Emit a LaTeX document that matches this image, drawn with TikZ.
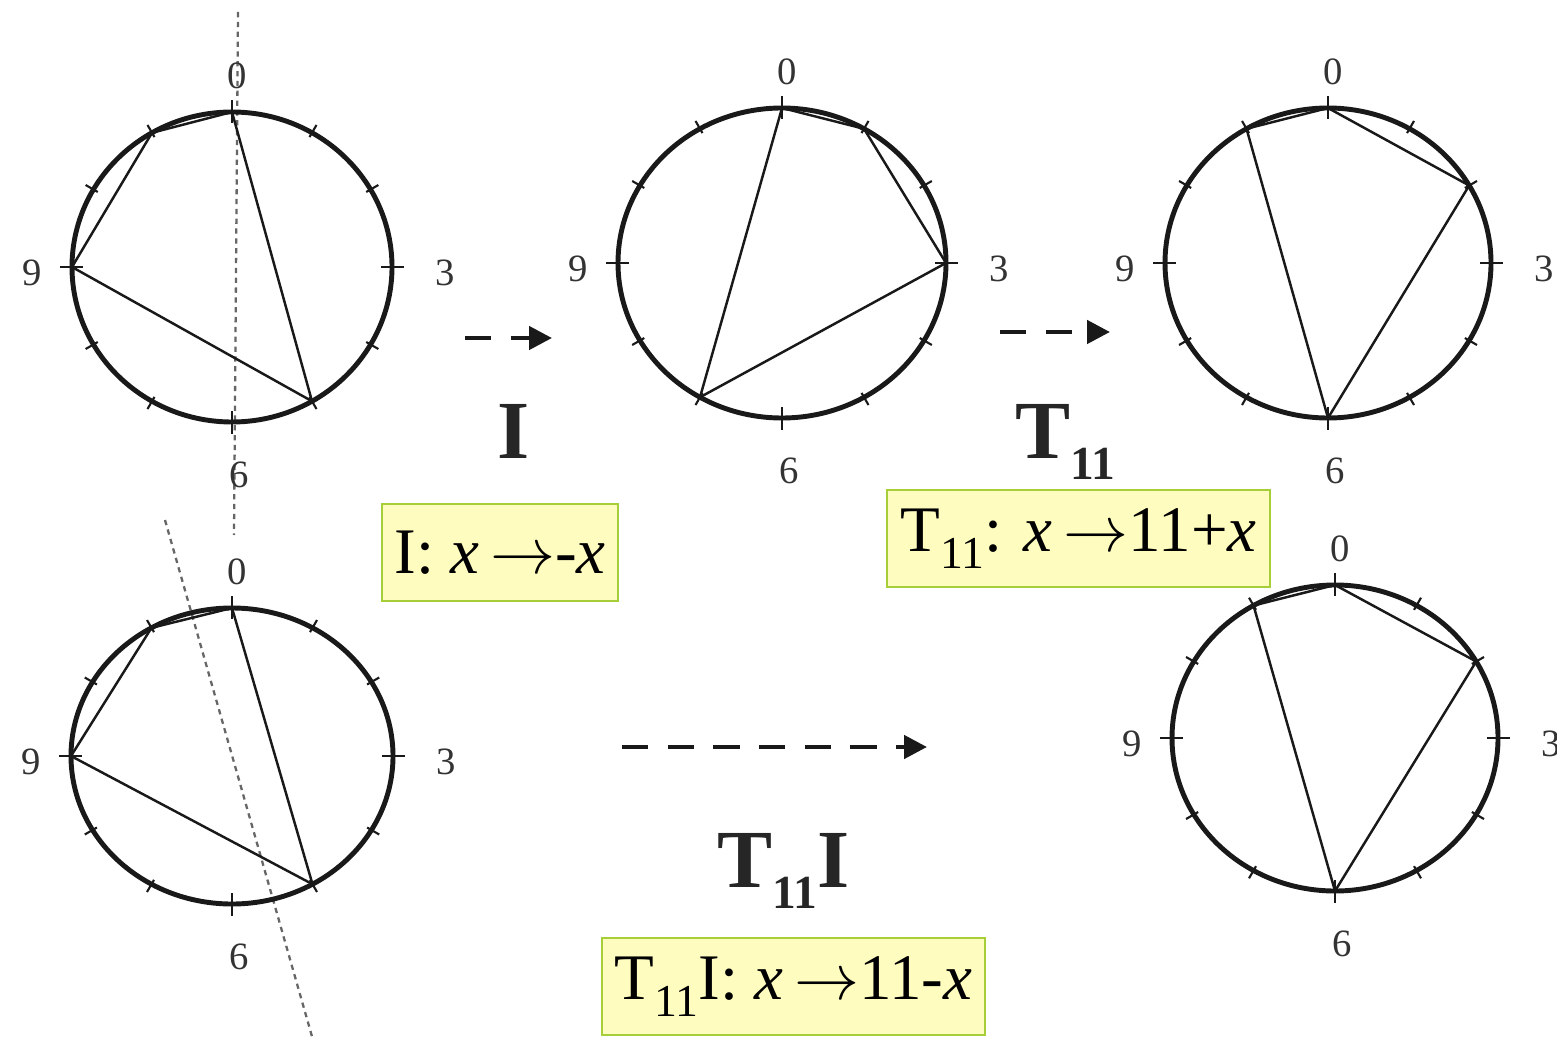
\RequirePackage{fix-cm}
\documentclass[tikz,border=0pt]{standalone}
\usepackage{fontspec}
\setmainfont{Liberation Serif}
\usetikzlibrary{arrows.meta}
\definecolor{boxfill}{RGB}{255,252,192}
\definecolor{boxline}{RGB}{166,206,57}
\definecolor{ink}{RGB}{25,25,25}
\newcommand{\sublow}[1]{\raisebox{-10pt}{\fontsize{26}{26}\selectfont #1}}
\newcommand{\opsub}[1]{\raisebox{-12pt}{\fontsize{27}{27}\selectfont #1}}
\begin{document}
\begin{tikzpicture}[x=0.02cm, y=0.02cm,
		rim/.style={draw=ink, line width=2.8pt},
		chord/.style={draw=ink, line width=1.4pt, line join=round},
		tick/.style={draw=ink, line width=1.2pt},
		num/.style={font=\fontsize{22}{22}\selectfont, text=black!80, inner sep=0pt},
		axis/.style={draw=black!60, line width=1.3pt, dash pattern=on 3pt off 2.6pt},
		flow/.style={draw=ink, line width=2.6pt, dash pattern=on 15pt off 11pt, -{Triangle[length=13pt,width=13pt]}},
		oplabel/.style={font=\fontsize{47}{47}\selectfont\bfseries, text=black!85, inner sep=0pt, anchor=base west},
		rule/.style={draw=boxline, fill=boxfill, line width=1.2pt, minimum height=1.94cm, font=\fontsize{37}{37}\selectfont, inner sep=0pt},
	]
	\useasboundingbox (0,0) rectangle (1557,-1050);

	% mirror axes
	\coordinate (ax1-top) at (238,-12);
	\coordinate (ax1-bot) at (234,-535);
	\coordinate (ax4-top) at (165,-520);
	\coordinate (ax4-bot) at (313,-1040);
	\draw[axis] (ax1-top) -- (ax1-bot);
	\draw[axis] (ax4-top) -- (ax4-bot);

	% clock faces
	\foreach \n/\cx/\cy/\rx/\ry in {c1/232/-267/160/155, c2/782/-263/164/155, c3/1328/-263/163/155, c4/232/-756/161/148, c5/1335/-738/163/153} {
		\draw[rim] (\cx,\cy) ellipse [x radius=\rx, y radius=\ry];
		\foreach \k in {0,...,11} {
			\pgfmathsetmacro{\a}{90-30*\k}
			\coordinate (\n-\k) at ({\cx+\rx*cos(\a)}, {\cy+\ry*sin(\a)});
			\draw[tick] ({\cx+(\rx-5)*cos(\a)}, {\cy+(\ry-5)*sin(\a)}) -- ({\cx+(\rx+9)*cos(\a)}, {\cy+(\ry+9)*sin(\a)});
		}
		\foreach \k in {0,3,6,9} {
			\pgfmathsetmacro{\a}{90-30*\k}
			\draw[tick] ({\cx+(\rx-11)*cos(\a)}, {\cy+(\ry-11)*sin(\a)}) -- ({\cx+(\rx+12)*cos(\a)}, {\cy+(\ry+12)*sin(\a)});
		}
		\node[num] (\n-l0) at (\cx+5, \cy+\ry+36) {0};
		\node[num] (\n-l3) at (\cx+\rx+53, \cy-6) {3};
		\node[num] (\n-l6) at (\cx+7, \cy-\ry-53) {6};
		\node[num] (\n-l9) at (\cx-\rx-40, \cy-6) {9};
	}

	% pitch-class sets
	\draw[chord] (c1-0) -- (c1-5) -- (c1-9) -- (c1-11) -- cycle;
	\draw[chord] (c2-0) -- (c2-1) -- (c2-3) -- (c2-7) -- cycle;
	\draw[chord] (c3-11) -- (c3-0) -- (c3-2) -- (c3-6) -- cycle;
	\draw[chord] (c4-0) -- (c4-5) -- (c4-9) -- (c4-11) -- cycle;
	\draw[chord] (c5-11) -- (c5-0) -- (c5-2) -- (c5-6) -- cycle;

	% operations
	\coordinate (f1-s) at (465,-338);
	\coordinate (f1-e) at (552,-338);
	\coordinate (f2-s) at (1000,-332);
	\coordinate (f2-e) at (1110,-332);
	\coordinate (f3-s) at (622,-747);
	\coordinate (f3-e) at (927,-747);
	\draw[flow] (f1-s) -- (f1-e);
	\draw[flow] (f2-s) -- (f2-e);
	\draw[flow] (f3-s) -- (f3-e);

	\node[oplabel] (op-i)  at (497,-458) {I};
	\node[oplabel] (op-t)  at (1015,-458) {T\opsub{11}};
	\node[oplabel] (op-ti) at (717,-887) {T\opsub{11}I};

	% rules
	\node[rule, minimum width=4.72cm] (rule-i)  at (500,-552.5) {I: \textit{x}\,$\rightarrow$-\textit{x}};
	\node[rule, minimum width=7.66cm] (rule-t)  at (1078.5,-538.5) {T\sublow{11}: \textit{x}\,$\rightarrow$11+\textit{x}};
	\node[rule, minimum width=7.66cm] (rule-ti) at (793.5,-986.5) {T\sublow{11}I: \textit{x}\,$\rightarrow$11-\textit{x}};

\end{tikzpicture}
\end{document}
